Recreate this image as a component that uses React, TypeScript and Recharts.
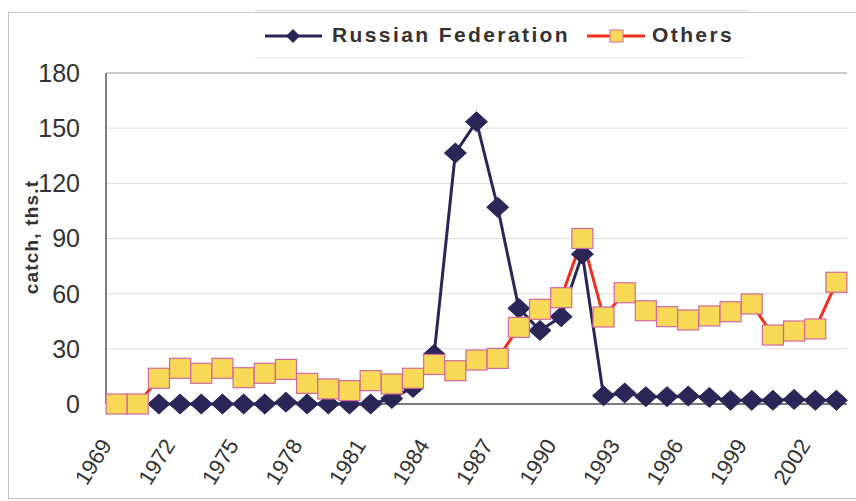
import React from 'react';
import { LineChart, Line, XAxis, YAxis, CartesianGrid, Legend, Label, ReferenceLine } from 'recharts';

const years = ['1969','1970','1971','1972','1973','1974','1975','1976','1977','1978','1979','1980','1981','1982','1983','1984','1985','1986','1987','1988','1989','1990','1991','1992','1993','1994','1995','1996','1997','1998','1999','2000','2001','2002','2003'];
const russia: (number | null)[] = [null, null, 0, 0, 0, 0, 0, 0, 1, 0, 0, 0, 0, 3, 9, 27, 136.5, 153.5, 107, 52, 40, 47.5, 81.5, 4.5, 6, 4, 4, 4.3, 3.6, 2, 2, 2, 2.5, 2, 2];
const others: number[] = [0, 0, 14, 19.4, 16.7, 19.4, 14.3, 16.7, 18.8, 11.2, 8.2, 7.3, 12.7, 10.9, 14, 21.5, 18.1, 23.9, 24.8, 41.7, 51.5, 57.8, 90, 47.3, 60.5, 50.7, 47.5, 45.7, 47.9, 50.2, 54.4, 37.5, 39.7, 40.8, 66.2];
const yTicks = [0, 30, 60, 90, 120, 150, 180];
const seriesNames = ['Russian Federation', 'Others'];

const data = years.map((y, i) => ({ year: y, russia: russia[i], others: others[i] }));

const FONT = "'Liberation Sans', Arial, sans-serif";
const NAVY = '#2b2658';
const RED = '#f0301e';
const YELLOW = '#f7d955';
const PINK = '#d4679e';

const Diamond = (props: any) => {
  const { cx, cy, index } = props;
  if (cx == null || cy == null || props.value == null) return <g key={`rd${index}`} />;
  return (
    <path
      key={`rd${index}`}
      d={`M${cx},${cy - 10} L${cx + 11},${cy} L${cx},${cy + 10} L${cx - 11},${cy} Z`}
      fill={NAVY}
      stroke={NAVY}
      strokeWidth={1}
    />
  );
};

const Square = (props: any) => {
  const { cx, cy, index } = props;
  if (cx == null || cy == null) return <g key={`os${index}`} />;
  return <rect key={`os${index}`} x={cx - 10.5} y={cy - 10} width={21} height={20} fill={YELLOW} stroke={PINK} strokeWidth={1.2} />;
};

const XTick = (props: any) => {
  const { x, y, payload } = props;
  const tx = x - 4;
  const ty = y + 33;
  return (
    <text x={tx} y={ty} transform={`rotate(-58, ${tx}, ${ty})`} textAnchor="end" fontSize={22} fill="#333" fontFamily={FONT}>
      {payload.value}
    </text>
  );
};

const YLabel = () => (
  <text x={38} y={237} transform="rotate(-90, 38, 237)" textAnchor="middle" fontSize={19} letterSpacing={1.2} fontWeight="bold" fill="#333" fontFamily={FONT}>
    catch, ths.t
  </text>
);

const LegendBox = () => (
  <div style={{ position: 'relative', width: 492, height: 48, borderTop: '1px solid #d8d8d8', borderBottom: '1px solid #e4e4e4', boxSizing: 'border-box', fontFamily: FONT, fontWeight: 'bold', fontSize: 21, letterSpacing: 2.4, color: '#333' }}>
    <svg style={{ position: 'absolute', left: 10, top: 15 }} width={58} height={20}>
      <line x1={0} y1={10} x2={57} y2={10} stroke={NAVY} strokeWidth={3} />
      <path d="M28,3 L35,10 L28,17 L21,10 Z" fill={NAVY} />
    </svg>
    <span style={{ position: 'absolute', left: 77, top: 11, lineHeight: '26px', whiteSpace: 'nowrap' }}>{seriesNames[0]}</span>
    <svg style={{ position: 'absolute', left: 332, top: 15 }} width={60} height={20}>
      <line x1={0} y1={10} x2={58} y2={10} stroke={RED} strokeWidth={3} />
      <rect x={23} y={4} width={13} height={12} fill={YELLOW} stroke={PINK} strokeWidth={1} />
    </svg>
    <span style={{ position: 'absolute', left: 397, top: 11, lineHeight: '26px', whiteSpace: 'nowrap' }}>{seriesNames[1]}</span>
  </div>
);

export default function App() {
  return (
    <div style={{ position: 'absolute', left: 0, top: 0, width: 856, height: 501, background: '#fff', overflow: 'hidden' }}>
      <div style={{ position: 'absolute', left: 8, top: 12, width: 870, height: 485, border: '1px solid #c4c4c4' }} />
      <LineChart width={856} height={501} data={data} margin={{ top: 73, right: 9, bottom: 67, left: 26 }}>
        <CartesianGrid horizontal={true} vertical={false} stroke="#dcdcdc" strokeWidth={1} />
        <XAxis
          dataKey="year"
          scale="band"
          interval={2}
          tickLine={false}
          axisLine={{ stroke: '#555', strokeWidth: 1.5 }}
          tick={<XTick />}
          height={30}
        />
        <YAxis
          domain={[0, 180]}
          ticks={yTicks}
          tickLine={false}
          tickSize={6}
          tickMargin={20}
          width={80}
          axisLine={{ stroke: '#555', strokeWidth: 1.5 }}
          tick={{ fontSize: 25, fill: '#333', fontFamily: FONT }}
          interval={0}
        >
          <Label content={<YLabel />} />
        </YAxis>
        <YAxis yAxisId="right" orientation="right" domain={[0, 180]} tick={false} tickLine={false} width={0} axisLine={{ stroke: '#999', strokeWidth: 1 }} />
        <ReferenceLine y={180} stroke="#aaa" strokeWidth={1} />
        <Legend
          layout="horizontal"
          verticalAlign="middle"
          align="center"
          content={<LegendBox />}
          wrapperStyle={{ position: 'absolute', top: 10, left: 255, width: 492, height: 48 }}
        />
        <Line
          type="linear"
          dataKey="russia"
          name={seriesNames[0]}
          stroke={NAVY}
          strokeWidth={3}
          dot={<Diamond />}
          activeDot={false}
          isAnimationActive={false}
          connectNulls={false}
        />
        <Line
          type="linear"
          dataKey="others"
          name={seriesNames[1]}
          stroke={RED}
          strokeWidth={3}
          dot={<Square />}
          activeDot={false}
          isAnimationActive={false}
        />
      </LineChart>
    </div>
  );
}
